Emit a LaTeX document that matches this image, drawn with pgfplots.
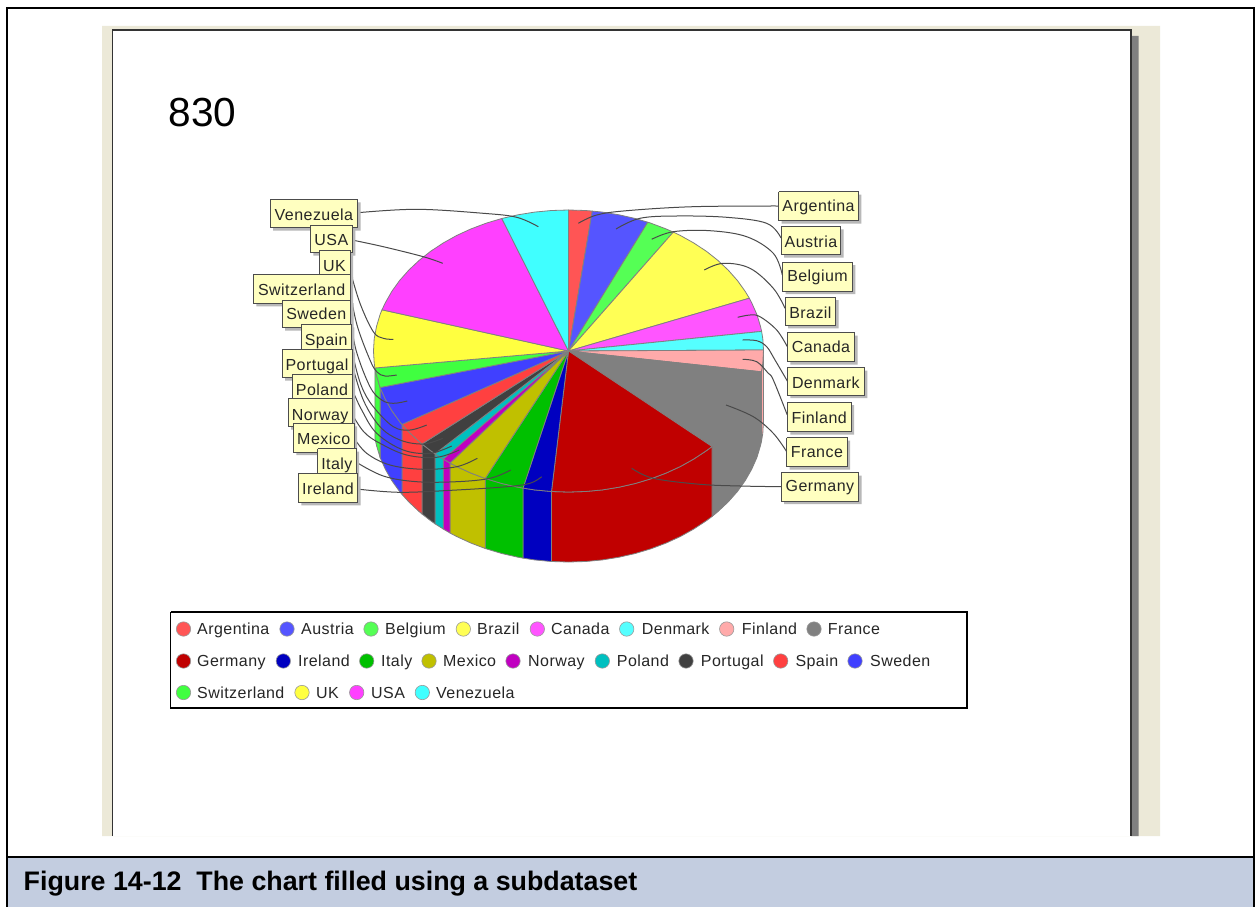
\documentclass[border=0pt]{standalone}
\usepackage{fontspec}
\setmainfont{Liberation Sans}
\newfontfamily\lbl[LetterSpace=2.8]{Liberation Sans}
\usepackage{pgfplots}
\pgfplotsset{compat=1.18}
\definecolor{cArg}{HTML}{FF5555}\definecolor{cAus}{HTML}{5555FF}\definecolor{cBel}{HTML}{55FF55}
\definecolor{cBra}{HTML}{FFFF55}\definecolor{cCan}{HTML}{FF55FF}\definecolor{cDen}{HTML}{55FFFF}
\definecolor{cFin}{HTML}{FFAAAA}\definecolor{cFra}{HTML}{808080}\definecolor{cGer}{HTML}{C00000}
\definecolor{cIre}{HTML}{0000C0}\definecolor{cIta}{HTML}{00C000}\definecolor{cMex}{HTML}{C0C000}
\definecolor{cNor}{HTML}{C000C0}\definecolor{cPol}{HTML}{00C0C0}\definecolor{cPor}{HTML}{404040}
\definecolor{cSpa}{HTML}{FF4040}\definecolor{cSwe}{HTML}{4040FF}\definecolor{cSwi}{HTML}{40FF40}
\definecolor{cUK}{HTML}{FFFF40}\definecolor{cUSA}{HTML}{FF40FF}\definecolor{cVen}{HTML}{40FFFF}
\definecolor{beige}{HTML}{ECE9D8}\definecolor{capt}{HTML}{C3CDE0}\definecolor{labfill}{HTML}{FFFFC0}
\definecolor{pieline}{HTML}{808080}\definecolor{leader}{HTML}{4A4A4A}
\newcommand\poly[2]{\addplot[fill=#1,draw=pieline,line width=0.8pt,line join=round] coordinates {#2};}
\newcommand\flatpoly[2]{\addplot[fill=#1,draw=none] coordinates {#2};}
\newcommand\stroke[3]{\addplot[draw=#1,line width=#2,line cap=rect] coordinates {#3};}
\newcommand\lead[1]{\addplot[draw=leader,line width=1pt,smooth,tension=0.6] coordinates {#1};}
\newcommand\lab[7]{%
 \addplot[fill=black!28,draw=none,xshift=3pt,yshift=-3pt] coordinates {(#1,#2)(#3,#2)(#3,#4)(#1,#4)(#1,#2)};
 \addplot[fill=labfill,draw=black!70,line width=1pt] coordinates {(#1,#2)(#3,#2)(#3,#4)(#1,#4)(#1,#2)};
 \node[anchor=base,inner sep=0pt,text=black!85] at (axis cs:#5,#6) {\fontsize{16}{16}\lbl\selectfont #7};}
\newcommand\leg[6]{%
 \addplot[only marks,mark=*,mark size=7.2pt,mark options={fill=#1,draw=black!40,line width=0.6pt}] coordinates {(#2,#3)};
 \node[anchor=base west,inner sep=0pt,text=black!85] at (axis cs:#4,#5) {\fontsize{16}{16}\lbl\selectfont #6};}
\begin{document}
\begin{tikzpicture}
\begin{axis}[scale only axis,width=1255pt,height=907pt,xmin=0,xmax=1255,ymin=0,ymax=907,y dir=reverse,hide axis]
% full canvas
\flatpoly{white}{(0,0)(1255,0)(1255,907)(0,907)(0,0)}
% page background
\flatpoly{beige}{(102,26)(1160,26)(1160,836)(102,836)(102,26)}
\flatpoly{pieline}{(1131,36)(1138.5,36)(1138.5,836)(1131,836)(1131,36)}
\flatpoly{white}{(113,30)(1131,30)(1131,836)(113,836)(113,30)}
\stroke{black!80}{1.5pt}{(112.7,835.5)(112.7,30)(1131,30)(1131,835.5)}
\stroke{black}{2pt}{(7,907)(7,8)(1254,8)(1254,907)}
\flatpoly{capt}{(7,857)(1254,857)(1254,907)(7,907)(7,857)}
\stroke{black}{2pt}{(7,857)(1254,857)}
\stroke{black}{2pt}{(7,857)(7,907)}
\stroke{black}{2pt}{(1254,857)(1254,907)}
\node[anchor=base west,inner sep=0pt] at (axis cs:168.5,126.7) {\fontsize{40.6}{40.6}\selectfont 830};
\node[anchor=base west,inner sep=0pt] at (axis cs:23.5,890.7) {\fontsize{26.8}{26.8}\selectfont\bfseries Figure 14-12\ \ The chart filled using a subdataset};
% pie sides
\poly{cFin}{(763.5,350)(762.8,363.3)(761.4,371.8)(761.4,441.8)(762.8,433.3)(763.5,420)(763.5,350)}
\poly{cFra}{(761.4,371.8)(760.5,375.5)(756.9,387.5)(751.7,399.2)(745.2,410.6)(737.4,421.5)(728.2,431.9)(717.9,441.6)(712,446.5)(712,516.5)(717.9,511.6)(728.2,501.9)(737.4,491.5)(745.2,480.6)(751.7,469.2)(756.9,457.5)(760.5,445.5)(761.4,441.8)(761.4,371.8)}
\poly{cGer}{(712,446.5)(706.4,450.7)(693.8,459)(680.4,466.5)(666,473.1)(650.9,478.8)(635.2,483.5)(619,487.2)(602.4,489.9)(585.5,491.5)(568.5,492)(551.5,491.5)(551.5,561.5)(568.5,562)(585.5,561.5)(602.4,559.9)(619,557.2)(635.2,553.5)(650.9,548.8)(666,543.1)(680.4,536.5)(693.8,529)(706.4,520.7)(712,516.5)(712,446.5)}
\poly{cIre}{(551.5,491.5)(534.6,489.9)(523,488.1)(523,558.1)(534.6,559.9)(551.5,561.5)(551.5,491.5)}
\poly{cIta}{(523,488.1)(518,487.2)(501.8,483.5)(485.2,478.5)(485.2,548.5)(501.8,553.5)(518,557.2)(523,558.1)(523,488.1)}
\poly{cMex}{(485.2,478.5)(471,473.1)(456.6,466.5)(450,463)(450,533)(456.6,536.5)(471,543.1)(485.2,548.5)(485.2,478.5)}
\poly{cNor}{(450,463)(443.2,459)(443.2,529)(450,533)(450,463)}
\poly{cPol}{(443.2,459)(435,453.8)(435,523.8)(443.2,529)(443.2,459)}
\poly{cPor}{(435,453.8)(430.6,450.7)(422,444)(422,514)(430.6,520.7)(435,523.8)(435,453.8)}
\poly{cSpa}{(422,444)(419.1,441.6)(408.8,431.9)(402,424.4)(402,494.4)(408.8,501.9)(419.1,511.6)(422,514)(422,444)}
\poly{cSwe}{(402,424.4)(399.6,421.5)(391.8,410.6)(385.3,399.2)(380.1,387.5)(380.1,457.5)(385.3,469.2)(391.8,480.6)(399.6,491.5)(402,494.4)(402,424.4)}
\poly{cSwi}{(380.1,387.5)(376.5,375.5)(374.9,368)(374.9,438)(376.5,445.5)(380.1,457.5)(380.1,387.5)}
% pie top
\poly{cArg}{(568.5,351)(568.5,210)(585.5,210.5)(592.3,211.1)(568.5,351)}
\poly{cAus}{(568.5,351)(592.3,211.1)(602.4,212.1)(619,214.8)(635.2,218.5)(647.8,222.2)(568.5,351)}
\poly{cBel}{(568.5,351)(647.8,222.2)(650.9,223.2)(666,228.9)(673.3,232.1)(568.5,351)}
\poly{cBra}{(568.5,351)(673.3,232.1)(680.4,235.5)(693.8,243)(706.4,251.3)(717.9,260.4)(728.2,270.1)(737.4,280.5)(745.2,291.4)(749.3,298.2)(568.5,351)}
\poly{cCan}{(568.5,351)(749.3,298.2)(751.7,302.8)(756.9,314.5)(760.5,326.5)(761.6,331.4)(568.5,351)}
\poly{cDen}{(568.5,351)(761.6,331.4)(762.8,338.7)(763.5,350)(568.5,351)}
\poly{cFin}{(568.5,351)(763.5,350)(762.8,363.3)(761.4,371.8)(568.5,351)}
\poly{cFra}{(568.5,351)(761.4,371.8)(760.5,375.5)(756.9,387.5)(751.7,399.2)(745.2,410.6)(737.4,421.5)(728.2,431.9)(717.9,441.6)(712,446.5)(568.5,351)}
\poly{cGer}{(568.5,351)(712,446.5)(706.4,450.7)(693.8,459)(680.4,466.5)(666,473.1)(650.9,478.8)(635.2,483.5)(619,487.2)(602.4,489.9)(585.5,491.5)(568.5,492)(551.5,491.5)(568.5,351)}
\poly{cIre}{(568.5,351)(551.5,491.5)(534.6,489.9)(523,488.1)(568.5,351)}
\poly{cIta}{(568.5,351)(523,488.1)(518,487.2)(501.8,483.5)(485.2,478.5)(568.5,351)}
\poly{cMex}{(568.5,351)(485.2,478.5)(471,473.1)(456.6,466.5)(450,463)(568.5,351)}
\poly{cNor}{(568.5,351)(450,463)(443.2,459)(568.5,351)}
\poly{cPol}{(568.5,351)(443.2,459)(435,453.8)(568.5,351)}
\poly{cPor}{(568.5,351)(435,453.8)(430.6,450.7)(422,444)(568.5,351)}
\poly{cSpa}{(568.5,351)(422,444)(419.1,441.6)(408.8,431.9)(402,424.4)(568.5,351)}
\poly{cSwe}{(568.5,351)(402,424.4)(399.6,421.5)(391.8,410.6)(385.3,399.2)(380.1,387.5)(568.5,351)}
\poly{cSwi}{(568.5,351)(380.1,387.5)(376.5,375.5)(374.9,368)(568.5,351)}
\poly{cUK}{(568.5,351)(374.9,368)(374.2,363.3)(373.5,351)(374.2,338.7)(376.5,326.5)(380.1,314.5)(382,309.8)(568.5,351)}
\poly{cUSA}{(568.5,351)(382,309.8)(385.3,302.8)(391.8,291.4)(399.6,280.5)(408.8,270.1)(419.1,260.4)(430.6,251.3)(443.2,243)(456.6,235.5)(471,228.9)(486.1,223.2)(501.8,218.5)(568.5,351)}
\poly{cVen}{(568.5,351)(501.8,218.5)(518,214.8)(534.6,212.1)(551.5,210.5)(568.5,210)(568.5,351)}
% leader lines
\lead{(778,206)(693,206.7)(626.7,210.7)(596.7,215)(578.3,223.3)}
\lead{(781,238)(766.7,223.3)(726.7,217.3)(676.7,216)(640,218.3)(616,229)}
\lead{(782.3,275)(773.3,253.3)(746.7,236.7)(710,230.7)(673.3,231.7)(651.7,239.3)}
\lead{(785,308.3)(773.3,288.3)(750,268.3)(723.3,263.3)(704.3,270)}
\lead{(787.3,346.7)(776.7,330)(760,316.7)(750,315)(737.7,317.3)}
\lead{(787.3,381)(775,360)(766.7,346.7)(756.7,340.7)(742.7,340)}
\lead{(787.3,415)(773.3,380)(768.3,373.3)(756.7,361.7)(742.7,359.3)}
\lead{(786.7,451.7)(773.3,433.3)(753.3,416.7)(726,405)}
\lead{(781,486.7)(740,486)(700,484.3)(653.3,478.3)(631.7,468.3)}
\lead{(358,212.7)(416.7,209.3)(483.3,213.3)(516.7,217.3)(538.3,226.7)}
\lead{(352,240)(383.3,246.7)(423.3,256.7)(442.7,263.3)}
\lead{(350,270)(360,303.3)(373.3,331.7)(383.3,338.3)(393.3,339.3)}
\lead{(350,290)(357,325)(370,360)(377,372)(385,376)(396.7,375)}
\lead{(350,314)(356,350)(370,386.7)(381.7,400)(393.3,403.3)(407.3,401)}
\lead{(351,339)(354,360)(361.7,386.7)(373.3,406.7)(393.3,426.7)(410,430)(426.7,425)}
\lead{(352,364)(363.3,400)(380,426.7)(400,440)(423.3,444)(442.7,438.3)}
\lead{(352,389)(361.7,410)(376.7,433.3)(403.3,450)(430,453.3)(451.7,446)}
\lead{(352,414)(364,432)(380,443.3)(406.7,455)(436.7,457.3)(459.3,450)}
\lead{(354,438)(366.7,453.3)(390,465)(423.3,469.3)(456.7,466.7)(477.3,458.3)}
\lead{(356,462)(383.3,476)(416.7,481.7)(456.7,481.7)(490,478.3)(510.7,470)}
\lead{(357,489)(400,492.3)(456.7,490)(506.7,486.7)(530,483.3)(541.7,476.7)}
% right labels
\lab{778.7}{191.7}{858.3}{220.7}{818.5}{211.7}{Argentina}
\lab{781}{226.3}{840.7}{254.7}{810.9}{247.3}{Austria}
\lab{782.7}{262}{852.3}{291}{817.5}{281.7}{Belgium}
\lab{785}{297}{835.7}{325.3}{810.4}{318.3}{Brazil}
\lab{787.3}{332.7}{854.7}{361.7}{821}{352.3}{Canada}
\lab{787.3}{367.7}{864.3}{395}{825.8}{388.3}{Denmark}
\lab{787.3}{402}{851}{431.7}{819.2}{423.3}{Finland}
\lab{786.7}{437.7}{847}{466.7}{816.9}{457.3}{France}
\lab{781}{472.7}{858.7}{501}{819.9}{491.7}{Germany}
% left labels
\lab{270}{199.3}{357.7}{227.7}{313.9}{220.7}{Venezuela}
\lab{310.3}{225}{352.3}{252.7}{331.3}{245}{USA}
\lab{319}{250}{350}{276}{334.5}{271}{UK}
\lab{253.3}{274}{350}{303.3}{301.7}{295}{Switzerland}
\lab{282}{300}{350.7}{327.7}{316.3}{319.3}{Sweden}
\lab{301}{324.3}{351.3}{353.3}{326.2}{345.3}{Spain}
\lab{282}{349.3}{352}{377.7}{317}{370}{Portugal}
\lab{292}{374}{352}{402}{322}{395}{Poland}
\lab{288}{398.3}{352.3}{426.7}{320.2}{420}{Norway}
\lab{293.3}{423.3}{354}{452}{323.7}{444}{Mexico}
\lab{317.7}{448.7}{356}{476}{336.9}{469.3}{Italy}
\lab{298.3}{473.7}{357.7}{502.3}{328}{494}{Ireland}
% legend
\addplot[fill=white,draw=black,line width=1.9pt] coordinates {(170.5,611.7)(967.3,611.7)(967.3,708.3)(170.5,708.3)(170.5,611.7)};
\leg{cArg}{183.5}{629}{197}{634.5}{Argentina}
\leg{cAus}{287}{629}{301}{634.5}{Austria}
\leg{cBel}{371}{629}{385}{634.5}{Belgium}
\leg{cBra}{463.3}{629}{477}{634.5}{Brazil}
\leg{cCan}{537.3}{629}{551}{634.5}{Canada}
\leg{cDen}{626.7}{629}{641.7}{634.5}{Denmark}
\leg{cFin}{726.7}{629}{741.7}{634.5}{Finland}
\leg{cFra}{814}{629}{827.7}{634.5}{France}
\leg{cGer}{183.5}{661}{197}{666.5}{Germany}
\leg{cIre}{283.3}{661}{298}{666.5}{Ireland}
\leg{cIta}{366.7}{661}{381}{666.5}{Italy}
\leg{cMex}{429}{661}{443}{666.5}{Mexico}
\leg{cNor}{513}{661}{528}{666.5}{Norway}
\leg{cPol}{602.3}{661}{616.7}{666.5}{Poland}
\leg{cPor}{686}{661}{700.7}{666.5}{Portugal}
\leg{cSpa}{780.7}{661}{795.3}{666.5}{Spain}
\leg{cSwe}{855}{661}{870}{666.5}{Sweden}
\leg{cSwi}{183.5}{692.5}{197}{698}{Switzerland}
\leg{cUK}{302}{692.5}{316}{698}{UK}
\leg{cUSA}{356.7}{692.5}{371}{698}{USA}
\leg{cVen}{422.3}{692.5}{436}{698}{Venezuela}
\end{axis}
\end{tikzpicture}
\end{document}
